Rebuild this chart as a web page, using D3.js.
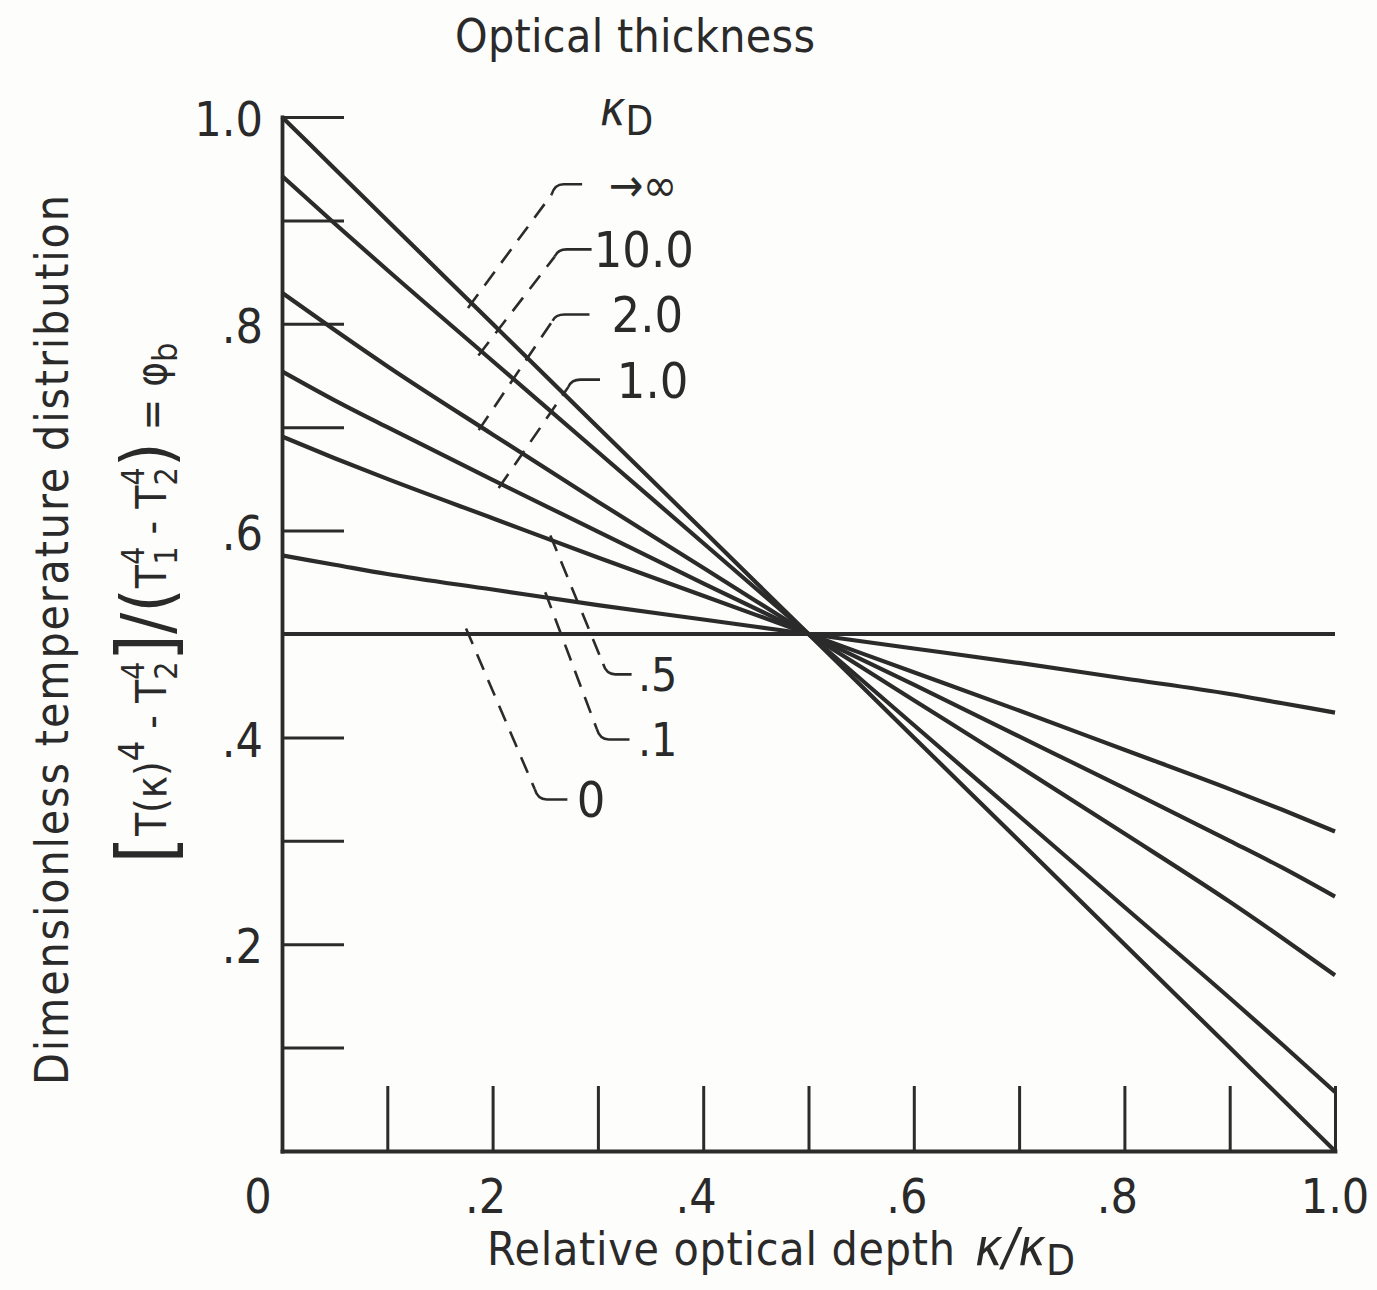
<!DOCTYPE html>
<html>
<head>
<meta charset="utf-8">
<script src="https://cdn.jsdelivr.net/npm/d3@7"></script>
<style>
  body { margin: 0; background: #fdfdfb; }
  svg { display: block; }
  text { font-family: 'Liberation Sans Narrow', 'DejaVu Sans Condensed', sans-serif; fill: #2a2a2a; }
  .axis path, .axis line { stroke: #2b2b2b; }
</style>
</head>
<body>
<div id="chart"></div>
<script>
// relative optical depth kappa / kappa_D
const depth = [0, 0.05, 0.1, 0.2, 0.3, 0.4, 0.5, 0.6, 0.7, 0.8, 0.9, 0.95, 1.0]

// dimensionless temperature distribution phi_b, one list per optical thickness kappa_D
const phiInfinity = [1.0, 0.95, 0.9, 0.8, 0.7, 0.6, 0.5, 0.4, 0.3, 0.2, 0.1, 0.05, 0.0]
const phi10 = [0.943, 0.897, 0.852, 0.764, 0.676, 0.588, 0.5, 0.412, 0.324, 0.236, 0.148, 0.103, 0.057]
const phi2 = [0.83, 0.794, 0.759, 0.693, 0.628, 0.564, 0.5, 0.436, 0.372, 0.307, 0.241, 0.206, 0.17]
const phi1 = [0.754, 0.726, 0.7, 0.649, 0.599, 0.549, 0.5, 0.451, 0.401, 0.351, 0.3, 0.274, 0.246]
const phiHalf = [0.691, 0.67, 0.65, 0.612, 0.574, 0.537, 0.5, 0.463, 0.426, 0.388, 0.35, 0.33, 0.309]
const phiTenth = [0.576, 0.567, 0.558, 0.543, 0.528, 0.514, 0.5, 0.486, 0.472, 0.457, 0.442, 0.433, 0.424]
const phiZero = [0.5, 0.5, 0.5, 0.5, 0.5, 0.5, 0.5, 0.5, 0.5, 0.5, 0.5, 0.5, 0.5]

const series = [phiInfinity, phi10, phi2, phi1, phiHalf, phiTenth, phiZero]

// ticks and labels
const xTicks = [0.1, 0.2, 0.3, 0.4, 0.5, 0.6, 0.7, 0.8, 0.9, 1.0]
const xLabels = [0, 0.2, 0.4, 0.6, 0.8, 1.0]
const yTicks = [0.1, 0.2, 0.3, 0.4, 0.5, 0.6, 0.7, 0.8, 0.9, 1.0]
const yLabels = [0.2, 0.4, 0.6, 0.8, 1.0]

// leader lines: point on the curve, bend, end of the stub, start of label (data units)
const leaders = [
  { label: '\u2192\u221E', curve: [0.18, 0.82], bend: [0.256, 0.925], end: [0.285, 0.935], textX: 0.31 },
  { label: '10.0', curve: [0.19, 0.774], bend: [0.259, 0.865], end: [0.294, 0.872], textX: 0.296 },
  { label: '2.0', curve: [0.19, 0.702], bend: [0.257, 0.803], end: [0.292, 0.809], textX: 0.313 },
  { label: '1.0', curve: [0.209, 0.646], bend: [0.272, 0.739], end: [0.302, 0.746], textX: 0.318 },
  { label: '.5', curve: [0.257, 0.59], bend: [0.305, 0.471], end: [0.332, 0.461], textX: 0.338 },
  { label: '.1', curve: [0.252, 0.535], bend: [0.299, 0.408], end: [0.33, 0.398], textX: 0.338 },
  { label: '0', curve: [0.177, 0.5], bend: [0.24, 0.35], end: [0.271, 0.34], textX: 0.28 }
]

const ink = '#2b2b2b'

const svg = d3.select('#chart').append('svg')
  .attr('width', 1377)
  .attr('height', 1290)

const x = d3.scaleLinear().domain([0, 1]).range([282, 1335])
const y = d3.scaleLinear().domain([0, 1]).range([1151, 117])

// axes with inward ticks
svg.append('g')
  .attr('class', 'axis')
  .attr('transform', `translate(0,${y(0)})`)
  .call(d3.axisBottom(x).tickValues(xTicks).tickSize(-65).tickSizeOuter(0).tickFormat(''))
svg.append('g')
  .attr('class', 'axis')
  .attr('transform', `translate(${x(0)},0)`)
  .call(d3.axisLeft(y).tickValues(yTicks).tickSize(-62).tickSizeOuter(0).tickFormat(''))

svg.selectAll('.axis .domain').attr('stroke-width', 3.8).attr('stroke-linecap', 'square')
svg.selectAll('.axis .tick line').attr('stroke-width', 3)

// curves
const line = d3.line()
  .x((d, i) => x(depth[i]))
  .y(d => y(d))
  .curve(d3.curveMonotoneX)

svg.append('g').selectAll('path')
  .data(series)
  .join('path')
  .attr('d', line)
  .attr('fill', 'none')
  .attr('stroke', ink)
  .attr('stroke-width', 4.2)

// leader lines and labels
const leaderGroup = svg.append('g')
leaders.forEach(d => {
  const cx = x(d.curve[0])
  const cy = y(d.curve[1])
  const bx = x(d.bend[0])
  const by = y(d.bend[1])
  const ex = x(d.end[0])
  const ey = y(d.end[1])
  // extend a little past the curve so the first dash crosses it
  const len = Math.hypot(cx - bx, cy - by)
  const sx = cx + (cx - bx) / len * 6
  const sy = cy + (cy - by) / len * 6
  leaderGroup.append('path')
    .attr('d', `M${sx},${sy}L${bx},${by}`)
    .attr('fill', 'none')
    .attr('stroke', ink)
    .attr('stroke-width', 2.6)
    .attr('stroke-dasharray', '17,11')
  leaderGroup.append('path')
    .attr('d', `M${bx},${by}Q${bx + 3},${ey} ${bx + 12},${ey}L${ex},${ey}`)
    .attr('fill', 'none')
    .attr('stroke', ink)
    .attr('stroke-width', 2.6)
  leaderGroup.append('text')
    .attr('x', x(d.textX))
    .attr('y', ey)
    .attr('dy', '0.36em')
    .attr('font-size', d.label.length > 2 || d.label === '0' ? 50 : 46)
    .text(d.label)
})

// tick labels
const fmt = d => d === 0 ? '0' : d === 1 ? '1.0' : d3.format('.1f')(d).replace(/^0/, '')
svg.append('g').selectAll('text')
  .data(xLabels)
  .join('text')
  .attr('x', d => x(d) + (d === 0 ? -24 : d === 1 ? 0 : -7))
  .attr('y', 1196)
  .attr('dy', '0.36em')
  .attr('text-anchor', 'middle')
  .attr('font-size', 48)
  .text(fmt)

svg.append('g').selectAll('text')
  .data(yLabels)
  .join('text')
  .attr('x', 263)
  .attr('y', d => y(d) + 2)
  .attr('dy', '0.36em')
  .attr('text-anchor', 'end')
  .attr('font-size', 48)
  .text(fmt)

// titles
svg.append('text')
  .attr('x', 635)
  .attr('y', 52)
  .attr('text-anchor', 'middle')
  .attr('font-size', 46)
  .attr('textLength', 360)
  .attr('lengthAdjust', 'spacing')
  .text('Optical thickness')

const kHead = svg.append('text')
  .attr('x', 600)
  .attr('y', 125)
  .attr('font-size', 48)
kHead.append('tspan').attr('font-style', 'italic').text('\u03BA')
kHead.append('tspan').attr('dy', 10).attr('font-size', 40).text('D')

const xTitle = svg.append('text')
  .attr('x', 487)
  .attr('y', 1265)
  .attr('font-size', 46)
xTitle.append('tspan').attr('textLength', 468).attr('lengthAdjust', 'spacing').text('Relative optical depth')
xTitle.append('tspan').attr('x', 975).attr('font-size', 52).attr('font-style', 'italic').text('\u03BA/\u03BA')
xTitle.append('tspan').attr('dy', 10).attr('font-size', 42).text('D')

svg.append('text')
  .attr('transform', 'translate(68,640) rotate(-90)')
  .attr('text-anchor', 'middle')
  .attr('font-size', 46)
  .attr('textLength', 890)
  .attr('lengthAdjust', 'spacing')
  .text('Dimensionless temperature distribution')

// second line of the y title: [T(k)^4 - T2^4]/(T1^4 - T2^4) = phi_b
const formula = [
  { t: '[', size: 78, shift: 7 },
  { t: 'T(\u03BA)', size: 42, shift: 0 },
  { t: '4', size: 36, shift: -22 },
  { t: ' - T', size: 42, shift: 0 },
  { t: '4', size: 32, shift: -22 },
  { t: '2', size: 32, shift: 11, back: -18 },
  { t: ']', size: 78, shift: 7 },
  { t: '/(', size: 70, shift: 5 },
  { t: 'T', size: 42, shift: 0 },
  { t: '4', size: 32, shift: -22 },
  { t: '1', size: 32, shift: 11, back: -18 },
  { t: ' - T', size: 42, shift: 0 },
  { t: '4', size: 32, shift: -22 },
  { t: '2', size: 32, shift: 11, back: -18 },
  { t: ')', size: 70, shift: 5 },
  { t: ' = \u03C6', size: 42, shift: 0 },
  { t: 'b', size: 34, shift: 11 }
]
const formulaText = svg.append('text')
  .attr('transform', 'translate(166,603) rotate(-90)')
  .attr('text-anchor', 'middle')
let lastShift = 0
formula.forEach(p => {
  formulaText.append('tspan')
    .attr('font-size', p.size)
    .attr('dx', p.back || 0)
    .attr('dy', p.shift - lastShift)
    .text(p.t)
  lastShift = p.shift
})
</script>
</body>
</html>
